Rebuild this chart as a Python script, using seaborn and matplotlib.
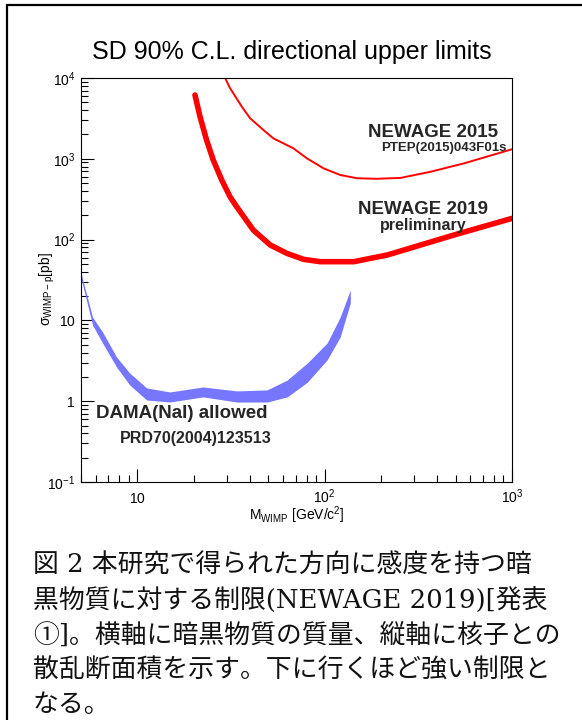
import pandas as pd
import seaborn as sns
import matplotlib.pyplot as plt
from matplotlib.ticker import FixedLocator, LogLocator, NullFormatter
from matplotlib.patches import Rectangle

# NEWAGE 2015 limit, PTEP(2015)043F01 (mass in GeV/c^2, sigma in pb)
mass_2015 = [29.4, 31.2, 36.1, 40.0, 47.1, 53.2, 60.0, 68.1, 80.3, 98.6, 121, 149, 190, 254, 368, 555, 1000]
sigma_2015 = [10000, 7516, 4418, 3170, 2270, 1791, 1560, 1347, 1014, 762, 631, 574, 566, 580, 692, 879, 1313]

# NEWAGE 2019 preliminary
mass_2019 = [20.3, 21.6, 23.4, 25.4, 28.2, 31.2, 33.9, 41.6, 51.2, 62.8, 77.1, 94.6, 143, 216, 325, 490, 1000]
sigma_2019 = [6160, 3319, 1709, 966, 547, 340, 255, 131, 85.7, 67.6, 57.0, 53.3, 53.3, 64.5, 85.7, 114, 183]

# DAMA(NaI) allowed band, PRD70(2004)123513
mass_dama = [5.03, 5.76, 6.52, 7.74, 9.1, 11.2, 14.9, 22.4, 34.0, 49.3, 63.1, 80.8, 103, 121, 137]
dama_low = [31.6, 8.77, 5.25, 2.65, 1.59, 1.035, 0.977, 1.13, 0.977, 0.977, 1.13, 1.72, 3.24, 6.24, 16.4]
dama_high = [36.5, 11.0, 7.18, 3.52, 2.23, 1.46, 1.30, 1.50, 1.34, 1.38, 1.83, 2.97, 5.25, 11.0, 23.8]

x_ticks = [10, 100, 1000]
x_tick_labels = ['$10$', '$10^{2}$', '$10^{3}$']
y_ticks = [0.1, 1, 10, 100, 1000, 10000]
y_tick_labels = ['$10^{-1}$', '$1$', '$10$', '$10^{2}$', '$10^{3}$', '$10^{4}$']

caption_lines = [
    '図 2 本研究で得られた方向に感度を持つ暗',
    '黒物質に対する制限(NEWAGE 2019)[発表',
    '①]。横軸に暗黒物質の質量、縦軸に核子との',
    '散乱断面積を示す。下に行くほど強い制限と',
    'なる。',
]

sns.set_theme(style='ticks')
plt.rcParams['font.family'] = ['Liberation Sans', 'DejaVu Sans']
plt.rcParams['mathtext.fontset'] = 'custom'
plt.rcParams['mathtext.rm'] = 'Liberation Sans'
plt.rcParams['mathtext.it'] = 'Liberation Sans:italic'
plt.rcParams['mathtext.bf'] = 'Liberation Sans:bold'
plt.rcParams['axes.edgecolor'] = 'black'
plt.rcParams['axes.linewidth'] = 0.8

W, H = 582, 720
fig = plt.figure(figsize=(W / 100, H / 100), dpi=100, facecolor='white')
ax = fig.add_axes([81 / W, 1 - 482 / H, 431 / W, 404 / H])

df15 = pd.DataFrame({'mass': mass_2015, 'sigma': sigma_2015})
df19 = pd.DataFrame({'mass': mass_2019, 'sigma': sigma_2019})
dama = pd.DataFrame({'mass': mass_dama, 'low': dama_low, 'high': dama_high})

ax.fill_between(dama['mass'], dama['low'], dama['high'], color='#7676ff', lw=0)
sns.lineplot(data=df15, x='mass', y='sigma', color='red', lw=1.4,
             estimator=None, sort=False, ax=ax)
sns.lineplot(data=df19, x='mass', y='sigma', color='red', lw=4.0,
             estimator=None, sort=False, ax=ax)
for ln in ax.get_lines():
    ln.set_solid_joinstyle('round')

ax.set_xscale('log')
ax.set_yscale('log')
ax.set_xlim(5, 1000)
ax.set_ylim(0.1, 10000)

ax.xaxis.set_major_locator(FixedLocator(x_ticks))
ax.set_xticklabels(x_tick_labels)
ax.yaxis.set_major_locator(FixedLocator(y_ticks))
ax.set_yticklabels(y_tick_labels)
ax.xaxis.set_minor_locator(LogLocator(base=10, subs=range(2, 10), numticks=20))
ax.yaxis.set_minor_locator(LogLocator(base=10, subs=range(2, 10), numticks=20))
ax.xaxis.set_minor_formatter(NullFormatter())
ax.yaxis.set_minor_formatter(NullFormatter())

ax.tick_params(which='both', direction='in', top=False, right=False,
               color='black', width=0.8, labelsize=10, labelcolor='black')
ax.tick_params(which='major', length=9.5)
ax.tick_params(which='minor', length=4.8)
ax.tick_params(axis='y', which='major', pad=4)
ax.tick_params(axis='x', which='major', pad=15)
for lbl in ax.get_xticklabels():
    lbl.set_va('baseline')

ax.set_xlabel('M$_{\\mathrm{WIMP}}$ [GeV/c$^{2}$]', fontsize=10, color='black')
ax.set_ylabel('σ$_{\\mathrm{WIMP-p}}$[pb]', fontsize=10, color='black')
ax.xaxis.set_label_coords(0.5, -0.056)
ax.yaxis.set_label_coords(-0.055, 0.478)

ax.text(0.817, 0.854, 'NEWAGE 2015', transform=ax.transAxes, ha='center',
        va='baseline', fontsize=13.5, fontweight='bold')
ax.text(0.842, 0.819, 'PTEP(2015)043F01s', transform=ax.transAxes, ha='center',
        va='baseline', fontsize=9.5, fontweight='bold')
ax.text(0.793, 0.663, 'NEWAGE 2019', transform=ax.transAxes, ha='center',
        va='baseline', fontsize=13.5, fontweight='bold')
ax.text(0.793, 0.623, 'preliminary', transform=ax.transAxes, ha='center',
        va='baseline', fontsize=11.5, fontweight='bold')
ax.text(0.035, 0.158, 'DAMA(NaI) allowed', transform=ax.transAxes, ha='left',
        va='baseline', fontsize=13.5, fontweight='bold')
ax.text(0.090, 0.0965, 'PRD70(2004)123513', transform=ax.transAxes, ha='left',
        va='baseline', fontsize=11.5, fontweight='bold')

fig.text(292 / W, 1 - 59 / H, 'SD 90% C.L. directional upper limits',
         ha='center', va='baseline', fontsize=18, color='black')

# caption below the chart
for i, line in enumerate(caption_lines):
    fig.text(33 / W, 1 - (573 + 34.8 * i) / H, line, ha='left', va='baseline',
             fontsize=18.6, color='#111111', family=['DejaVu Serif', 'Noto Sans CJK JP'])

# outer frame (right and bottom sides run off the image)
fig.add_artist(Rectangle((7 / W, -0.1), 1.2, 1.1 - 5 / H, transform=fig.transFigure,
                         fill=False, ec='black', lw=1.6))

fig.savefig('out.png', dpi=100, facecolor='white')
